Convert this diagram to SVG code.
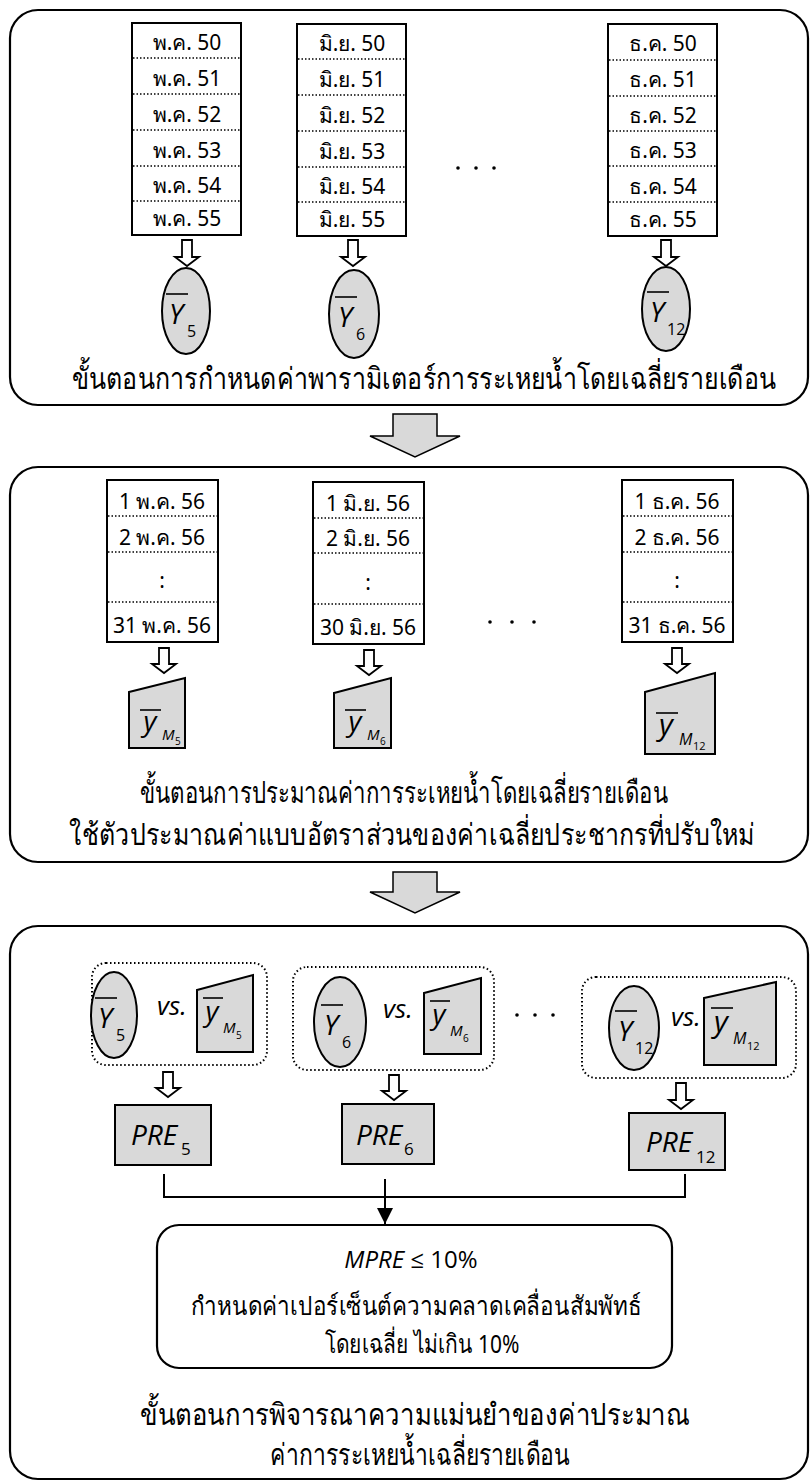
<svg xmlns="http://www.w3.org/2000/svg" width="811" height="1484" viewBox="0 0 811 1484">
<defs>
<style>
.frame{fill:#fff;stroke:#000;stroke-width:2.2}
.tbl{fill:#fff;stroke:#000;stroke-width:2}
.dv{stroke:#000;stroke-width:1.5;stroke-dasharray:1.5 2}
.gray{fill:#d9d9d9;stroke:#000;stroke-width:2}
.harrow{fill:#fff;stroke:#000;stroke-width:1.8}
.barrow{fill:#d9d9d9;stroke:#000;stroke-width:1.5}
.grp{fill:none;stroke:#000;stroke-width:2;stroke-dasharray:1.5 2.5}
.th{font-family:'Noto Sans','DejaVu Sans',sans-serif;fill:#000}
.cell{font-size:21px;text-anchor:middle}
.title{font-size:30px;text-anchor:middle}
.m{font-family:'Open Sans','Noto Sans',sans-serif;font-style:italic;fill:#000}
.n{font-family:'Open Sans','Noto Sans',sans-serif;fill:#000}
.ol{stroke:#000;stroke-width:1.6}
.conn{fill:none;stroke:#000;stroke-width:2}
</style>
<marker id="ah" viewBox="0 0 16 16" refX="16" refY="8" markerWidth="16" markerHeight="16" markerUnits="userSpaceOnUse" orient="auto">
<path d="M0,0 L16,8 L0,16 Z" fill="#000"/>
</marker>
</defs>

<!-- Section frames -->
<g id="frame-top"><rect class="frame" x="10" y="10" width="798" height="395" rx="28"/>
<text class="th title" transform="translate(424,389) scale(0.85,1)" x="0" y="0" textLength="828" lengthAdjust="spacingAndGlyphs">ขั้นตอนการกำหนดค่าพารามิเตอร์การระเหยน้ำโดยเฉลี่ยรายเดือน</text></g>
<g id="frame-mid"><rect class="frame" x="10" y="467" width="798" height="395" rx="28"/>
<text class="th title" transform="translate(404,803) scale(0.85,1)" x="0" y="0" textLength="621" lengthAdjust="spacingAndGlyphs">ขั้นตอนการประมาณค่าการระเหยน้ำโดยเฉลี่ยรายเดือน</text>
<text class="th title" transform="translate(412,845) scale(0.85,1)" x="0" y="0" textLength="806" lengthAdjust="spacingAndGlyphs">ใช้ตัวประมาณค่าแบบอัตราส่วนของค่าเฉลี่ยประชากรที่ปรับใหม่</text></g>
<g id="frame-bot"><rect class="frame" x="10" y="926" width="798" height="553" rx="28"/>
<text class="th title" transform="translate(415,1425) scale(0.85,1)" x="0" y="0" textLength="647" lengthAdjust="spacingAndGlyphs">ขั้นตอนการพิจารณาความแม่นยำของค่าประมาณ</text>
<text class="th title" transform="translate(420,1465) scale(0.85,1)" x="0" y="0" textLength="353" lengthAdjust="spacingAndGlyphs">ค่าการระเหยน้ำเฉลี่ยรายเดือน</text></g>

<!-- Top tables -->
<g id="tbl-may50">
<rect class="tbl" x="132" y="23" width="109" height="212"/>
<line class="dv" x1="133" y1="58" x2="240" y2="58"/><line class="dv" x1="133" y1="94" x2="240" y2="94"/><line class="dv" x1="133" y1="130" x2="240" y2="130"/><line class="dv" x1="133" y1="166" x2="240" y2="166"/><line class="dv" x1="133" y1="201" x2="240" y2="201"/>
<text class="th cell" x="187" y="50">พ.ค. 50</text><text class="th cell" x="187" y="86">พ.ค. 51</text><text class="th cell" x="187" y="122">พ.ค. 52</text><text class="th cell" x="187" y="158">พ.ค. 53</text><text class="th cell" x="187" y="193">พ.ค. 54</text><text class="th cell" x="187" y="226">พ.ค. 55</text>
</g>
<g id="tbl-jun50">
<rect class="tbl" x="297" y="24" width="109" height="212"/>
<line class="dv" x1="298" y1="59" x2="405" y2="59"/><line class="dv" x1="298" y1="95" x2="405" y2="95"/><line class="dv" x1="298" y1="131" x2="405" y2="131"/><line class="dv" x1="298" y1="167" x2="405" y2="167"/><line class="dv" x1="298" y1="202" x2="405" y2="202"/>
<text class="th cell" x="352" y="51">มิ.ย. 50</text><text class="th cell" x="352" y="87">มิ.ย. 51</text><text class="th cell" x="352" y="123">มิ.ย. 52</text><text class="th cell" x="352" y="159">มิ.ย. 53</text><text class="th cell" x="352" y="194">มิ.ย. 54</text><text class="th cell" x="352" y="227">มิ.ย. 55</text>
</g>
<g id="tbl-dec50">
<rect class="tbl" x="608" y="24" width="109" height="212"/>
<line class="dv" x1="609" y1="60" x2="716" y2="60"/><line class="dv" x1="609" y1="96" x2="716" y2="96"/><line class="dv" x1="609" y1="131" x2="716" y2="131"/><line class="dv" x1="609" y1="166" x2="716" y2="166"/><line class="dv" x1="609" y1="202" x2="716" y2="202"/>
<text class="th cell" x="663" y="51">ธ.ค. 50</text><text class="th cell" x="663" y="87">ธ.ค. 51</text><text class="th cell" x="663" y="123">ธ.ค. 52</text><text class="th cell" x="663" y="158">ธ.ค. 53</text><text class="th cell" x="663" y="194">ธ.ค. 54</text><text class="th cell" x="663" y="227">ธ.ค. 55</text>
</g>
<g id="dots-top"><circle cx="458" cy="168" r="1.8"/><circle cx="476" cy="168" r="1.8"/><circle cx="494" cy="168" r="1.8"/></g>

<!-- Top ellipses -->
<g id="Y5">
<ellipse class="gray" cx="186" cy="311" rx="24" ry="43"/>
<line class="ol" x1="166" y1="294" x2="188" y2="294"/>
<text class="m" x="176" y="324" font-size="28" text-anchor="middle">Y</text>
<text class="n" x="187" y="337" font-size="16">5</text>
</g>
<g id="Y6">
<ellipse class="gray" cx="354" cy="314" rx="25" ry="44"/>
<line class="ol" x1="335" y1="297" x2="357" y2="297"/>
<text class="m" x="345" y="327" font-size="28" text-anchor="middle">Y</text>
<text class="n" x="356" y="340" font-size="16">6</text>
</g>
<g id="Y12">
<ellipse class="gray" cx="666" cy="309" rx="24" ry="42"/>
<line class="ol" x1="647" y1="292" x2="669" y2="292"/>
<text class="m" x="657" y="322" font-size="28" text-anchor="middle">Y</text>
<text class="n" x="667" y="335" font-size="16">12</text>
</g>

<!-- Middle tables -->
<g id="tbl-may56">
<rect class="tbl" x="107" y="480" width="111" height="162"/>
<line class="dv" x1="108" y1="516" x2="217" y2="516"/><line class="dv" x1="108" y1="552" x2="217" y2="552"/><line class="dv" x1="108" y1="602" x2="217" y2="602"/>
<text class="th cell" x="162" y="509">1 พ.ค. 56</text><text class="th cell" x="162" y="545">2 พ.ค. 56</text><text class="th cell" x="162" y="588" font-size="22">:</text><text class="th cell" x="162" y="633">31 พ.ค. 56</text>
</g>
<g id="tbl-jun56">
<rect class="tbl" x="313" y="482" width="111" height="162"/>
<line class="dv" x1="314" y1="518" x2="423" y2="518"/><line class="dv" x1="314" y1="553" x2="423" y2="553"/><line class="dv" x1="314" y1="604" x2="423" y2="604"/>
<text class="th cell" x="368" y="511">1 มิ.ย. 56</text><text class="th cell" x="368" y="546">2 มิ.ย. 56</text><text class="th cell" x="368" y="590" font-size="22">:</text><text class="th cell" x="368" y="635">30 มิ.ย. 56</text>
</g>
<g id="tbl-dec56">
<rect class="tbl" x="622" y="480" width="111" height="162"/>
<line class="dv" x1="623" y1="516" x2="732" y2="516"/><line class="dv" x1="623" y1="552" x2="732" y2="552"/><line class="dv" x1="623" y1="602" x2="732" y2="602"/>
<text class="th cell" x="677" y="509">1 ธ.ค. 56</text><text class="th cell" x="677" y="545">2 ธ.ค. 56</text><text class="th cell" x="677" y="588" font-size="22">:</text><text class="th cell" x="677" y="633">31 ธ.ค. 56</text>
</g>
<g id="dots-mid"><circle cx="490" cy="622" r="1.8"/><circle cx="512" cy="622" r="1.8"/><circle cx="534" cy="622" r="1.8"/></g>

<!-- Middle trapezoids -->
<g id="yM5">
<polygon class="gray" points="129,692 185,678 185,748 129,748"/>
<line class="ol" x1="140" y1="710" x2="161" y2="710"/>
<text class="m" x="150" y="731" font-size="28" text-anchor="middle">y</text>
<text class="m" x="162" y="740" font-size="15">M</text>
<text class="n" x="175" y="745" font-size="10">5</text>
</g>
<g id="yM6">
<polygon class="gray" points="334,693 391,678 391,748 334,748"/>
<line class="ol" x1="345" y1="710" x2="366" y2="710"/>
<text class="m" x="355" y="731" font-size="28" text-anchor="middle">y</text>
<text class="m" x="367" y="740" font-size="15">M</text>
<text class="n" x="380" y="745" font-size="10">6</text>
</g>
<g id="yM12">
<polygon class="gray" points="645,692 715,673 715,754 645,754"/>
<line class="ol" x1="656" y1="713" x2="678" y2="713"/>
<text class="m" x="666" y="735" font-size="30" text-anchor="middle">y</text>
<text class="m" x="679" y="745" font-size="16">M</text>
<text class="n" x="693" y="750" font-size="11">12</text>
</g>

<!-- Bottom comparison groups -->
<g id="cmp5">
<rect class="grp" x="92" y="963" width="175" height="102" rx="14"/>
<ellipse class="gray" cx="114" cy="1015" rx="23" ry="43"/>
<line class="ol" x1="95" y1="998" x2="117" y2="998"/>
<text class="m" x="105" y="1028" font-size="28" text-anchor="middle">Y</text>
<text class="n" x="116" y="1041" font-size="16">5</text>
<text class="m" x="157" y="1015" font-size="26">vs.</text>
<polygon class="gray" points="197,990 253,975 253,1052 197,1052"/>
<line class="ol" x1="203" y1="998" x2="223" y2="998"/>
<text class="m" x="212" y="1021" font-size="28" text-anchor="middle">y</text>
<text class="m" x="223" y="1033" font-size="15">M</text>
<text class="n" x="236" y="1039" font-size="10">5</text>
</g>
<g id="cmp6">
<rect class="grp" x="293" y="967" width="201" height="103" rx="14"/>
<ellipse class="gray" cx="340" cy="1022" rx="26" ry="45"/>
<line class="ol" x1="321" y1="1005" x2="343" y2="1005"/>
<text class="m" x="331" y="1035" font-size="28" text-anchor="middle">Y</text>
<text class="n" x="342" y="1048" font-size="16">6</text>
<text class="m" x="383" y="1018" font-size="26">vs.</text>
<polygon class="gray" points="424,993 481,978 481,1054 424,1054"/>
<line class="ol" x1="430" y1="1001" x2="450" y2="1001"/>
<text class="m" x="439" y="1024" font-size="28" text-anchor="middle">y</text>
<text class="m" x="450" y="1036" font-size="15">M</text>
<text class="n" x="463" y="1042" font-size="10">6</text>
</g>
<g id="dots-bot"><circle cx="517" cy="1015" r="1.8"/><circle cx="535" cy="1015" r="1.8"/><circle cx="553" cy="1015" r="1.8"/></g>
<g id="cmp12">
<rect class="grp" x="582" y="977" width="214" height="101" rx="14"/>
<ellipse class="gray" cx="634" cy="1028" rx="25" ry="42"/>
<line class="ol" x1="615" y1="1011" x2="637" y2="1011"/>
<text class="m" x="625" y="1041" font-size="28" text-anchor="middle">Y</text>
<text class="n" x="635" y="1054" font-size="16">12</text>
<text class="m" x="671" y="1026" font-size="26">vs.</text>
<polygon class="gray" points="704,998 776,982 776,1065 704,1065"/>
<line class="ol" x1="711" y1="1008" x2="733" y2="1008"/>
<text class="m" x="721" y="1032" font-size="30" text-anchor="middle">y</text>
<text class="m" x="733" y="1044" font-size="16">M</text>
<text class="n" x="747" y="1050" font-size="11">12</text>
</g>

<!-- PRE boxes -->
<g id="PRE5"><rect class="gray" x="115" y="1105" width="96" height="60"/>
<text class="m" x="131" y="1145" font-size="28">PRE</text><text class="n" x="181" y="1155" font-size="17">5</text></g>
<g id="PRE6"><rect class="gray" x="342" y="1104" width="92" height="60"/>
<text class="m" x="356" y="1145" font-size="28">PRE</text><text class="n" x="404" y="1155" font-size="17">6</text></g>
<g id="PRE12"><rect class="gray" x="629" y="1113" width="96" height="57"/>
<text class="m" x="646" y="1152" font-size="28">PRE</text><text class="n" x="696" y="1163" font-size="17">12</text></g>

<!-- MPRE box -->
<g id="mpre">
<rect class="frame" x="157" y="1225" width="515" height="143" rx="22"/>
<text x="411" y="1268" font-size="24" text-anchor="middle" class="n"><tspan font-style="italic">MPRE</tspan> ≤ 10%</text>
<text class="th" x="416" y="1315" font-size="26" text-anchor="middle" textLength="451" lengthAdjust="spacingAndGlyphs">กำหนดค่าเปอร์เซ็นต์ความคลาดเคลื่อนสัมพัทธ์</text>
<text class="th" x="422" y="1353" font-size="26" text-anchor="middle" textLength="195" lengthAdjust="spacingAndGlyphs">โดยเฉลี่ย ไม่เกิน 10%</text>
</g>

<!-- Connectors -->
<g id="connectors">
<path class="barrow" d="M393,414 H437 V436 H460 L415,457 L370,436 H393 Z"/>
<path class="barrow" d="M393,872 H437 V892 H460 L415,913 L370,892 H393 Z"/>
<path class="harrow" d="M182,240 H192 V257 H199 L187,266 L175,257 H182 Z"/>
<path class="harrow" d="M348,240 H358 V257 H365 L353,266 L341,257 H348 Z"/>
<path class="harrow" d="M661,240 H671 V257 H678 L666,266 L654,257 H661 Z"/>
<path class="harrow" d="M159,648 H169 V664 H176 L164,673 L152,664 H159 Z"/>
<path class="harrow" d="M364,650 H374 V666 H381 L369,675 L357,666 H364 Z"/>
<path class="harrow" d="M672,648 H682 V664 H689 L677,673 L665,664 H672 Z"/>
<path class="harrow" d="M163,1072 H173 V1088 H180 L168,1097 L156,1088 H163 Z"/>
<path class="harrow" d="M389,1075 H399 V1091 H406 L394,1100 L382,1091 H389 Z"/>
<path class="harrow" d="M676,1083 H686 V1100 H693 L681,1109 L669,1100 H676 Z"/>
<path class="conn" d="M164,1174 V1197 H685 V1174"/>
<line class="conn" x1="385" y1="1179" x2="385" y2="1224" marker-end="url(#ah)"/>
</g>
</svg>
